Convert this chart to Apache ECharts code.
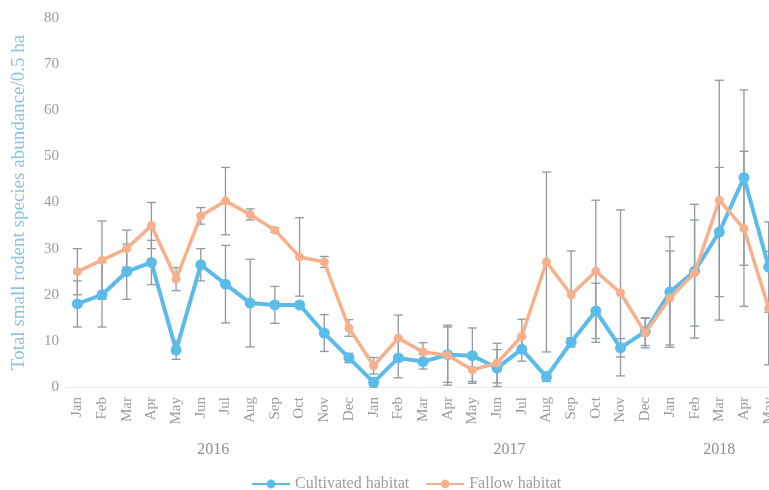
<!DOCTYPE html>
<html>
<head>
<meta charset="utf-8">
<script src="https://cdn.jsdelivr.net/npm/echarts@6/dist/echarts.min.js"></script>
<style>
  html, body { margin: 0; padding: 0; background: #fff; }
  #chart { width: 769px; height: 490px; }
</style>
</head>
<body>
<div id="chart"></div>
<script>
// Monthly survey, Jan 2016 – May 2018
const months = ['Jan','Feb','Mar','Apr','May','Jun','Jul','Aug','Sep','Oct','Nov','Dec',
                'Jan','Feb','Mar','Apr','May','Jun','Jul','Aug','Sep','Oct','Nov','Dec',
                'Jan','Feb','Mar','Apr','May'];
const years = ['2016', '2017', '2018'];
const yearCenters = [5.5, 17.5, 26];   // middle of each year's month span (category index)

// Mean abundance per 0.5 ha and error (±)
const cultivated    = [18, 20, 25, 27, 8, 26.5, 22.3, 18.2, 17.8, 17.8, 11.7, 6.3,
                       1, 6.3, 5.5, 7, 6.8, 4.1, 8.2, 2.2, 9.7, 16.5, 8.5, 12,
                       20.6, 25.1, 33.6, 45.4, 26];
const cultivatedErr = [5, 7, 6, 4.8, 2, 3.5, 8.4, 9.5, 4, 0.5, 4, 1,
                       1, 4.3, 1.6, 6, 6, 4, 2.6, 1, 1, 6, 2, 3,
                       12, 14.5, 14, 19, 9.8];
const fallow        = [25, 27.5, 30, 35, 23.4, 37.1, 40.3, 37.4, 34, 28.2, 27.1, 12.8,
                       4.6, 10.6, 7.6, 6.9, 3.7, 5.2, 11, 27.1, 20, 25.1, 20.4, 11.7,
                       19.3, 24.7, 40.5, 34.3, 17.1];
const fallowErr     = [5, 8.5, 4, 5, 2.5, 1.8, 7.3, 1.2, 0.5, 8.5, 1.2, 1.8,
                       1.8, 5, 2, 6.5, 2.5, 4.3, 3.7, 19.5, 9.5, 15.4, 18, 3.2,
                       10.2, 11.5, 26, 16.8, 12.3];

const BLUE = '#5bbce9';
const ORANGE = '#f6b08c';
const FONT = '"Liberation Serif", "DejaVu Serif", serif';

function errData(vals, errs) {
  return vals.map((v, i) => [i, v - errs[i], v + errs[i]]);
}

function renderErr(params, api) {
  const x = api.value(0);
  const lo = api.coord([x, api.value(1)]);
  const hi = api.coord([x, api.value(2)]);
  const half = 4.5;
  const style = { stroke: '#8d9aa3', lineWidth: 1.3, fill: null };
  return {
    type: 'group',
    children: [
      { type: 'line', shape: { x1: hi[0], y1: hi[1], x2: lo[0], y2: lo[1] }, style },
      { type: 'line', shape: { x1: hi[0] - half, y1: hi[1], x2: hi[0] + half, y2: hi[1] }, style },
      { type: 'line', shape: { x1: lo[0] - half, y1: lo[1], x2: lo[0] + half, y2: lo[1] }, style }
    ]
  };
}

const chart = echarts.init(document.getElementById('chart'));
chart.setOption({
  animation: false,
  backgroundColor: '#fff',
  textStyle: { fontFamily: FONT },
  // the plot runs slightly past the right edge of the canvas
  grid: { left: 65, width: 716, top: 18, bottom: 103, containLabel: false, outerBoundsMode: 'none' },
  legend: {
    left: 246, top: 471,
    itemWidth: 38, itemHeight: 11, itemGap: 16,
    textStyle: { color: '#9d9d9d', fontSize: 16, fontFamily: FONT },
    data: ['Cultivated habitat', 'Fallow habitat']
  },
  xAxis: [
    {
      type: 'category',
      data: months,
      boundaryGap: true,
      axisLine: { show: true, lineStyle: { color: '#f1f1f1' } },
      axisTick: { show: false },
      axisLabel: { rotate: 90, margin: 10, color: '#9a9a9a', fontSize: 15, fontFamily: FONT, interval: 0 }
    },
    {
      type: 'value',
      position: 'bottom',
      min: -0.5, max: 28.5,
      offset: 52,
      axisLine: { show: false },
      axisTick: { show: false },
      splitLine: { show: false },
      axisLabel: {
        customValues: yearCenters,
        margin: 3,
        color: '#8f8f8f', fontSize: 16, fontFamily: FONT,
        formatter: v => years[yearCenters.indexOf(v)] || ''
      }
    }
  ],
  yAxis: {
    type: 'value',
    min: 0, max: 80, interval: 10,
    axisLine: { show: false },
    axisTick: { show: false },
    splitLine: { show: false },
    axisLabel: { margin: 6, color: '#9a9a9a', fontSize: 15, fontFamily: FONT },
    name: 'Total small rodent species abundance/0.5 ha',
    nameLocation: 'middle',
    nameRotate: 90,
    nameGap: 36,
    nameTextStyle: { color: '#8cc3e0', fontSize: 19, fontFamily: FONT }
  },
  series: [
    {
      type: 'custom', name: 'cultivated-err', xAxisIndex: 0,
      renderItem: renderErr, data: errData(cultivated, cultivatedErr), z: 1, silent: true
    },
    {
      type: 'custom', name: 'fallow-err', xAxisIndex: 0,
      renderItem: renderErr, data: errData(fallow, fallowErr), z: 1, silent: true
    },
    {
      name: 'Cultivated habitat', type: 'line', xAxisIndex: 0, data: cultivated,
      symbol: 'circle', symbolSize: 11,
      lineStyle: { color: BLUE, width: 4 },
      itemStyle: { color: BLUE }, z: 3
    },
    {
      name: 'Fallow habitat', type: 'line', xAxisIndex: 0, data: fallow,
      symbol: 'circle', symbolSize: 9,
      lineStyle: { color: ORANGE, width: 3.5 },
      itemStyle: { color: ORANGE }, z: 4
    }
  ]
});
</script>
</body>
</html>
